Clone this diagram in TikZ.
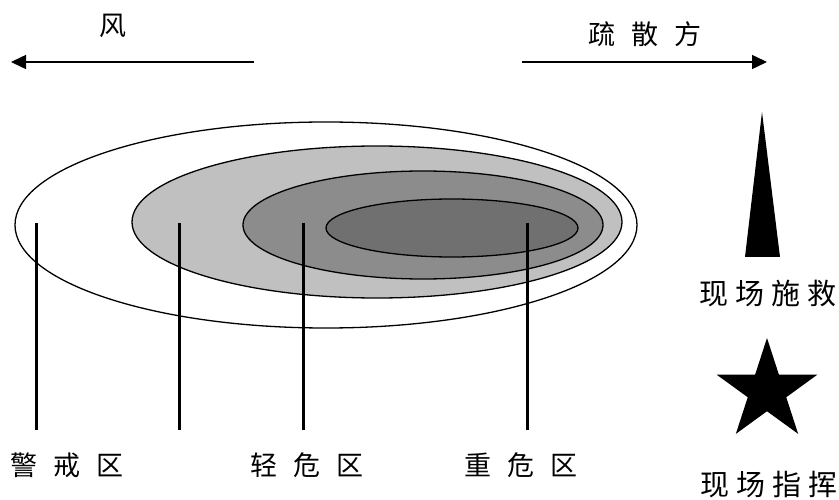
\documentclass[tikz,border=0pt]{standalone}
\usepackage{fontspec}
\newfontfamily\cjk{Noto Sans CJK SC}
\usetikzlibrary{arrows.meta, shapes.geometric}
\newcommand{\zgap}{\hspace{16pt}}
\definecolor{zonelight}{RGB}{192,192,192}
\definecolor{zonemid}{RGB}{140,140,140}
\definecolor{zonedark}{RGB}{112,112,112}

\begin{document}
\begin{tikzpicture}[x=1pt, y=-1pt,
        zone/.style={draw, line width=1.3pt},
        pointer/.style={line width=3pt},
        wind/.style={line width=1.5pt, -{Triangle[length=15pt,width=14pt]}},
        lbl/.style={font=\cjk\fontsize{27}{30}\selectfont, inner sep=0pt}]
    \useasboundingbox (0,0) rectangle (839,500);
    % zones
    \draw[zone, fill=white] (326,225) ellipse [x radius=311, y radius=103];
    \draw[zone, fill=zonelight] (377,222) ellipse [x radius=245, y radius=76];
    \draw[zone, fill=zonemid] (423,225) ellipse [x radius=180, y radius=54];
    \draw[zone, fill=zonedark] (452,228) ellipse [x radius=126, y radius=29];
    % wind and evacuation
    \node[lbl] (wind) at (113,26) {风};
    \node[lbl] (evac) at (645,34) {疏\zgap 散\zgap 方};
    \coordinate (wl-0) at (254,62);
    \coordinate (wl-1) at (11,62);
    \coordinate (ev-0) at (522,62);
    \coordinate (ev-1) at (767,62);
    \draw[wind] (wl-0) -- (wl-1);
    \draw[wind] (ev-0) -- (ev-1);
    % pointers
    \foreach \n/\px in {a/36, b/179, c/303, d/527} {
        \coordinate (\n-top) at (\px,223);
        \coordinate (\n-bot) at (\px,430);
        \draw[pointer] (\n-top) -- (\n-bot);
    }
    \node[lbl] (warn) at (67,465) {警\zgap 戒\zgap 区};
    \node[lbl] (light) at (307,465) {轻\zgap 危\zgap 区};
    \node[lbl] (heavy) at (521,465) {重\zgap 危\zgap 区};
    % legend
    \fill (762,112) -- (780,257) -- (745,257) -- cycle;
    \node[lbl, font=\cjk\fontsize{29}{32}\selectfont] (rescue) at (768,294)
        {现\hspace{7pt}场\hspace{7pt}施\hspace{7pt}救};
    \node[star, star points=5, star point ratio=2.618, fill=black,
        minimum size=106pt, inner sep=0pt] (cmd) at (767,391) {};
    \node[lbl, font=\cjk\fontsize{29}{32}\selectfont] (command) at (769,485)
        {现\hspace{7pt}场\hspace{7pt}指\hspace{7pt}挥};
\end{tikzpicture}
\end{document}
